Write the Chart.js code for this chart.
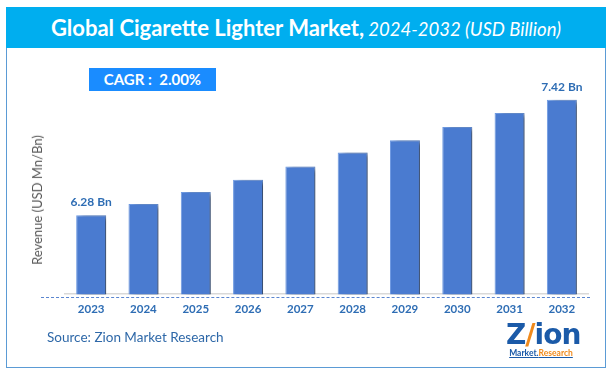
<!DOCTYPE html>
<html>
<head>
<meta charset="utf-8">
<script src="https://cdn.jsdelivr.net/npm/chart.js@4.4.0/dist/chart.umd.min.js"></script>
<style>
  html, body { margin:0; padding:0; background:#fff; }
  body { width:613px; height:375px; position:relative; overflow:hidden; font-family: Lato, "Open Sans", sans-serif; }
  #frame { position:absolute; left:6px; top:7px; width:598px; height:359px; border:1.5px solid #5b9bd5; box-sizing:content-box; }
  #band { position:absolute; left:6px; top:7px; width:600px; height:41px; background:#00aeef; color:#fff; text-align:center; line-height:41px; white-space:nowrap; }
  #band .b { font-weight:700; font-size:22px; }
  #band .i { font-style:italic; font-size:18.5px; }
  #cagr { position:absolute; left:89px; top:68px; width:127px; height:23px; background:#1a8cff; color:#fff; font-weight:700; font-size:15px; line-height:23px; text-align:center; }
  #dash { position:absolute; left:41px; top:297px; width:549px; border-top:1.5px dashed #5b86d0; }
  #source { position:absolute; left:47px; top:329px; font-size:13.5px; color:#2e68a8; }
  #ytitle { position:absolute; left:37px; top:200px; transform: translate(-50%,-50%) rotate(-90deg); white-space:nowrap; font-size:13px; color:#595959; }
  #logo { position:absolute; left:506px; top:321px; width:70px; text-align:center; }
  #logo .z { font-family: "DejaVu Sans", sans-serif; font-weight:900; font-size:28px; color:#1b5aa8; letter-spacing:-1px; line-height:28px; }
  #logo .z .s { color:#f08a1c; }
  #logo .m { font-size:8.5px; font-weight:700; line-height:9px; text-decoration:underline; color:#1b5aa8; }
  #logo .m .r { color:#f08a1c; }
  #wrap { position:absolute; left:0; top:0; width:613px; height:375px; }
</style>
</head>
<body>
<div id="frame"></div>
<div id="band"><span class="b">Global Cigarette Lighter Market,</span> <span class="i">2024-2032 (USD Billion)</span></div>
<div id="wrap"><canvas id="c" width="613" height="375"></canvas></div>
<div id="cagr">CAGR :&nbsp; 2.00%</div>
<div id="dash"></div>
<div id="source">Source: Zion Market Research</div>
<div id="ytitle">Revenue (USD Mn/Bn)</div>
<div id="logo"><div class="z">Z<span class="s">/</span>ion</div><div class="m">Market.<span class="r">Research</span></div></div>
<script>
const years = ["2023","2024","2025","2026","2027","2028","2029","2030","2031","2032"];
const revenue = [6.28, 6.39, 6.51, 6.63, 6.76, 6.90, 7.02, 7.15, 7.29, 7.42];
const labelledIndices = [0, 9];
const unitSuffix = " Bn";

const barShadow = {
  id: 'barShadow',
  beforeDatasetsDraw(chart) {
    const ctx = chart.ctx;
    ctx.save();
    ctx.shadowColor = 'rgba(0,0,0,0.55)';
    ctx.shadowBlur = 5;
    ctx.shadowOffsetX = 5;
    ctx.shadowOffsetY = 1;
  },
  afterDatasetsDraw(chart) {
    chart.ctx.restore();
  }
};

const valueLabels = {
  id: 'valueLabels',
  afterDraw(chart) {
    const ctx = chart.ctx;
    const meta = chart.getDatasetMeta(0);
    ctx.save();
    ctx.font = 'bold 12px Lato, sans-serif';
    ctx.fillStyle = '#2e6db4';
    ctx.textAlign = 'center';
    ctx.textBaseline = 'middle';
    labelledIndices.forEach(i => {
      const el = meta.data[i];
      ctx.fillText(revenue[i].toFixed(2) + unitSuffix, el.x, el.y - 13);
    });
    ctx.restore();
  }
};

new Chart(document.getElementById('c'), {
  type: 'bar',
  data: {
    labels: years,
    datasets: [{
      data: revenue,
      backgroundColor: '#4a7bd0',
      borderColor: '#6e9ae2',
      borderWidth: 1,
      barPercentage: 0.573,
      categoryPercentage: 1.0
    }]
  },
  options: {
    responsive: false,
    animation: false,
    devicePixelRatio: 1,
    layout: { padding: { left: 65, right: 25, top: 41, bottom: 51 } },
    plugins: { legend: { display: false }, tooltip: { enabled: false } },
    scales: {
      x: {
        grid: { display: false, drawTicks: false },
        border: { display: true, color: '#d9d9d9', width: 1.5 },
        ticks: { color: '#2e6db4', font: { family: 'Lato', weight: 'bold', size: 11.5 }, padding: 8 }
      },
      y: {
        display: false,
        min: 5.5, max: 8.0
      }
    }
  },
  plugins: [barShadow, valueLabels]
});
</script>
</body>
</html>
